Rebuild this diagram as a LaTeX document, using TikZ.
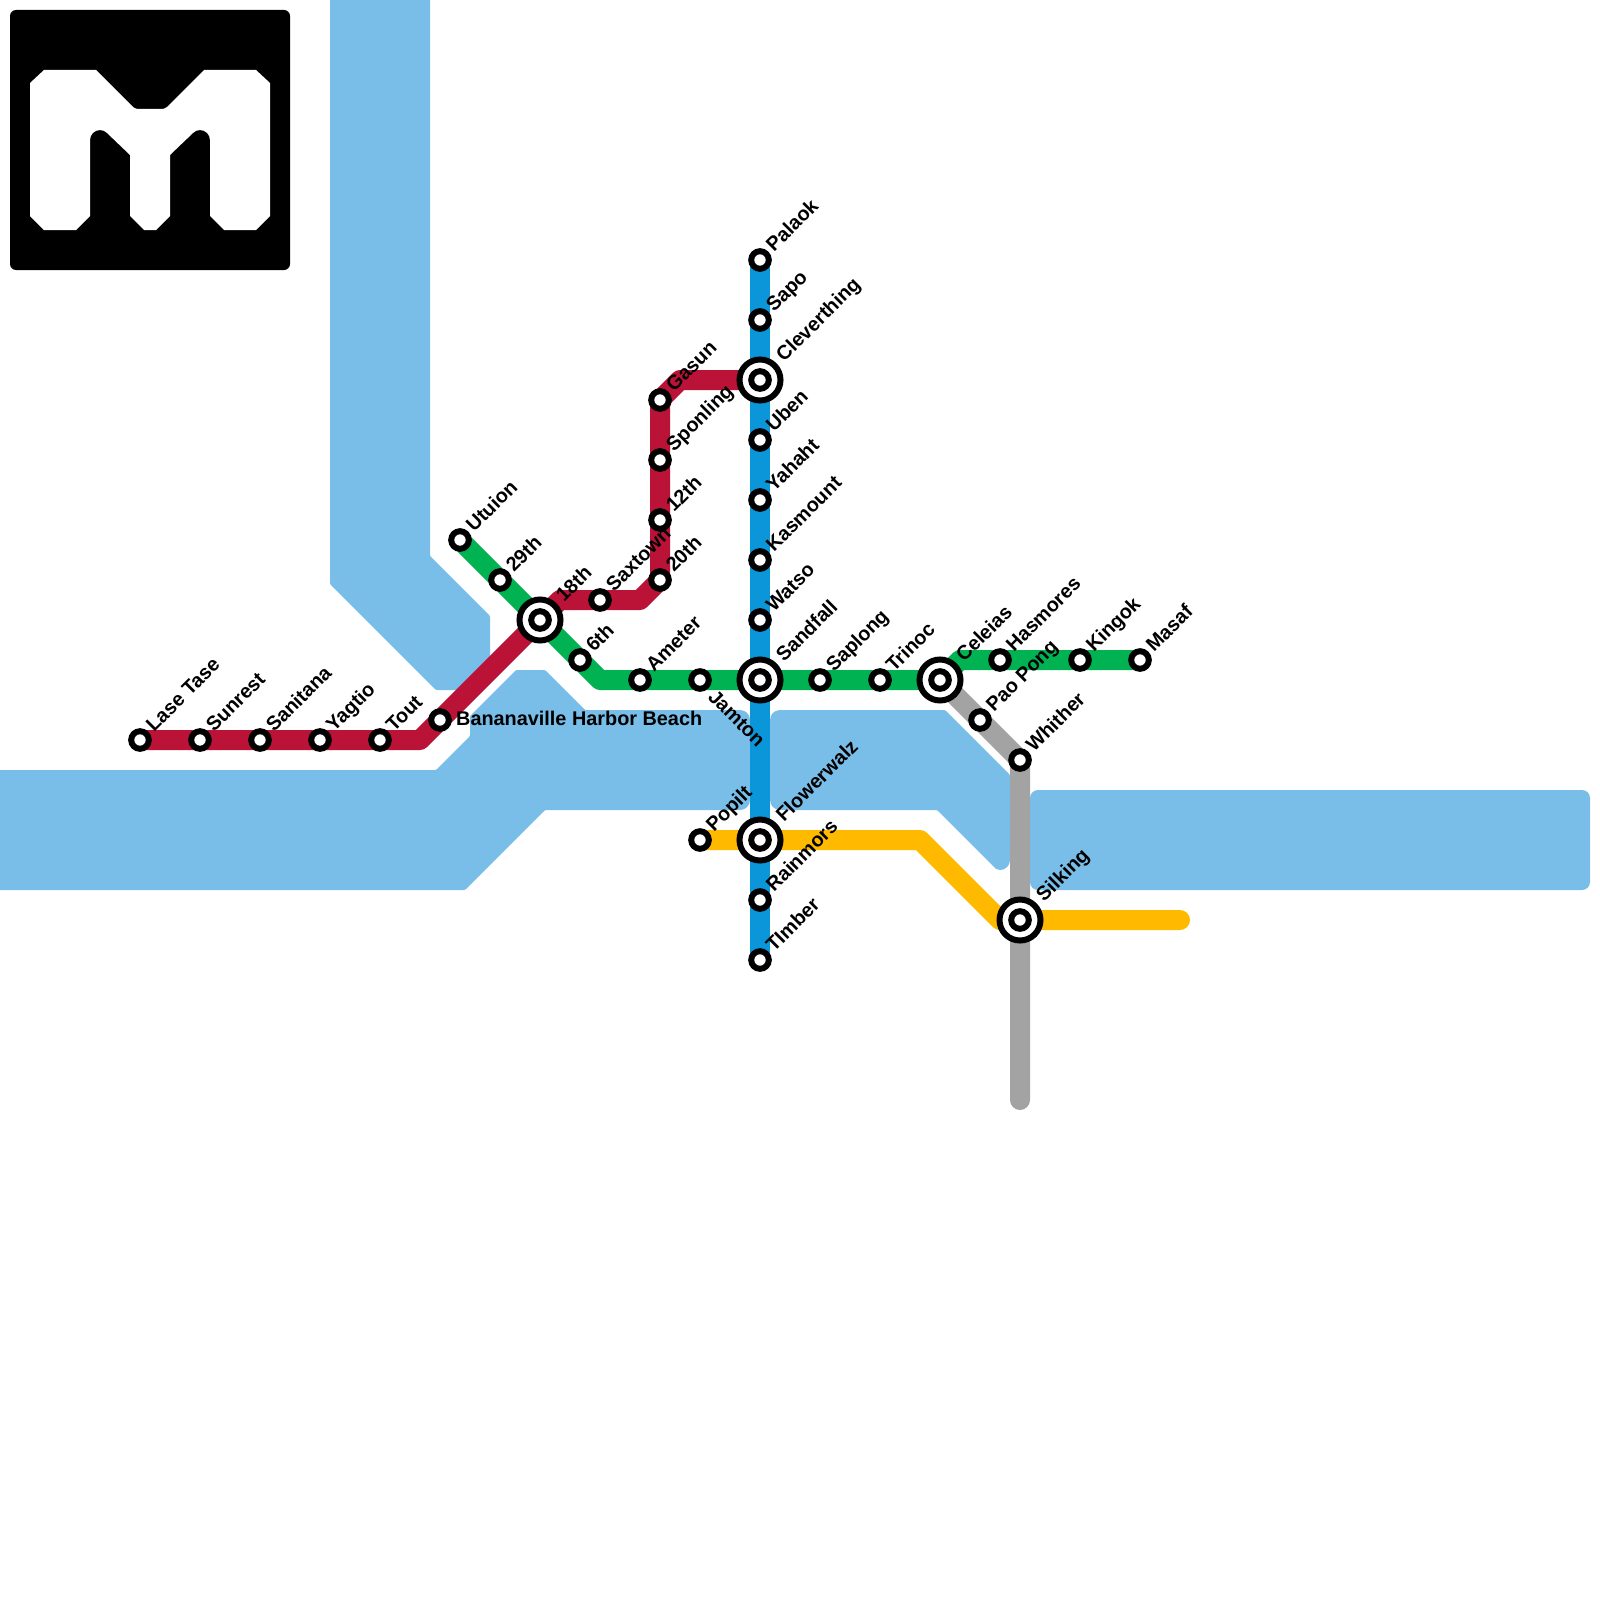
\documentclass[tikz,border=0pt]{standalone}
\usepackage{fontspec}
\setmainfont{Liberation Sans}
\usetikzlibrary{positioning}
\pgfdeclarelayer{water}
\pgfdeclarelayer{lines}
\pgfsetlayers{water,lines,main}
\definecolor{waterblue}{HTML}{79BDE9}
\definecolor{linered}{HTML}{BB1238}
\definecolor{linegreen}{HTML}{00B251}
\definecolor{lineblue}{HTML}{0A96D8}
\definecolor{lineyellow}{HTML}{FFBA00}
\definecolor{linegray}{HTML}{A3A3A3}
\begin{document}
\begin{tikzpicture}[
            x=1pt, y=-1pt,
            stn/.style={draw, circle, fill=white, line width=6pt, outer sep=0pt, minimum size=17.6pt, inner sep=0pt},
            hub/.style={draw, circle, fill=white, line width=6pt, outer sep=0pt, minimum size=41pt, inner sep=0pt, label={[stn]center:{}}},
            tag/.style={xshift=14pt, yshift=7pt, rotate=45, anchor=base west, inner sep=0pt, font=\fontsize{19.85}{24}\selectfont\bfseries},
            hubtag/.style={xshift=24pt, yshift=17pt, rotate=45, anchor=base west, inner sep=0pt, font=\fontsize{19.85}{24}\selectfont\bfseries},
            downtag/.style={xshift=7pt, yshift=-18pt, rotate=-45, anchor=base west, inner sep=0pt, font=\fontsize{19.85}{24}\selectfont\bfseries},
            flattag/.style={xshift=16pt, yshift=-5.5pt, anchor=base west, inner sep=0pt, font=\fontsize{19.85}{24}\selectfont\bfseries},
            route/.style={line width=20pt, line cap=round, line join=round}
        ]
        \useasboundingbox (0,0) rectangle (1600,1600);

        % logo
        \fill[black, rounded corners=6pt] (10,10) rectangle (290,270);
        \fill[white] (30,83) -- (44,70) -- (96,70) [rounded corners=3pt] -- (135,109) -- (165,109) [sharp corners] -- (204,70) -- (256,70) -- (270,83) -- (270,216) -- (256,230) -- (224,230) -- (210,216) -- (210,140) .. controls (210,134.5) and (205.5,130) .. (200,130) .. controls (197,130) and (194.8,131.2) .. (193,133) -- (170,155) -- (170,216) -- (156,230) -- (144,230) -- (130,216) -- (130,155) -- (107,133) .. controls (105.2,131.2) and (103,130) .. (100,130) .. controls (94.5,130) and (90,134.5) .. (90,140) -- (90,216) -- (76,230) -- (44,230) -- (30,216) -- cycle;

        \begin{pgfonlayer}{water}
            \fill[waterblue, rounded corners=1pt] (330,-10) -- (430,-10) -- (430,556) -- (490,616) -- (490,672) -- (476,690) -- (436,690) -- (330,584) -- cycle;
            \fill[waterblue, rounded corners=1pt] (-10,770) -- (436,770) -- (470,736) -- (470,716) -- (516,670) -- (545,670) -- (585,710) [rounded corners=10pt] -- (750,710) -- (750,810) [rounded corners=1pt] -- (545,810) -- (465,890) -- (-10,890) -- cycle;
            \fill[waterblue, rounded corners=10pt] (770,710) [rounded corners=1pt] -- (945,710) -- (1010,775) [sharp corners] -- (1010,860) .. controls (1010,866) and (1005,870) .. (1000,870) .. controls (997,870) and (995,868.5) .. (993,866) [rounded corners=1pt] -- (937,810) [rounded corners=10pt] -- (770,810) -- cycle;
            \fill[waterblue, rounded corners=8pt] (1030,790) rectangle (1590,890);
        \end{pgfonlayer}

        \node[stn] (LaseTase) at (140,740) {};
        \node[stn] (Sunrest) at (200,740) {};
        \node[stn] (Sanitana) at (260,740) {};
        \node[stn] (Yagtio) at (320,740) {};
        \node[stn] (Tout) at (380,740) {};
        \node[stn] (Bananaville) at (440,720) {};
        \node[stn] (Utuion) at (460,540) {};
        \node[stn] (TwentyNinth) at (500,580) {};
        \node[hub] (Eighteenth) at (540,620) {};
        \node[stn] (Sixth) at (580,660) {};
        \node[stn] (Saxtown) at (600,600) {};
        \node[stn] (Twentieth) at (660,580) {};
        \node[stn] (Twelfth) at (660,520) {};
        \node[stn] (Sponling) at (660,460) {};
        \node[stn] (Gasun) at (660,400) {};
        \node[stn] (Ameter) at (640,680) {};
        \node[stn] (Jamton) at (700,680) {};
        \node[stn] (Popilt) at (700,840) {};
        \node[stn] (Palaok) at (760,260) {};
        \node[stn] (Sapo) at (760,320) {};
        \node[hub] (Cleverthing) at (760,380) {};
        \node[stn] (Uben) at (760,440) {};
        \node[stn] (Yahaht) at (760,500) {};
        \node[stn] (Kasmount) at (760,560) {};
        \node[stn] (Watso) at (760,620) {};
        \node[hub] (Sandfall) at (760,680) {};
        \node[hub] (Flowerwalz) at (760,840) {};
        \node[stn] (Rainmors) at (760,900) {};
        \node[stn] (Timber) at (760,960) {};
        \node[stn] (Saplong) at (820,680) {};
        \node[stn] (Trinoc) at (880,680) {};
        \node[hub] (Celeias) at (940,680) {};
        \node[stn] (PaoPong) at (980,720) {};
        \node[stn] (Hasmores) at (1000,660) {};
        \node[stn] (Kingok) at (1080,660) {};
        \node[stn] (Masaf) at (1140,660) {};
        \node[stn] (Whither) at (1020,760) {};
        \node[hub] (Silking) at (1020,920) {};

        \coordinate (redA) at (420,740);
        \coordinate (redB) at (560,600);
        \coordinate (redC) at (640,600);
        \coordinate (redD) at (680,380);
        \coordinate (greenA) at (600,680);
        \coordinate (greenB) at (960,660);
        \coordinate (yellowA) at (920,840);
        \coordinate (yellowB) at (1000,920);
        \coordinate (yellowC) at (1180,920);
        \coordinate (grayA) at (1020,1100);

        \begin{pgfonlayer}{lines}
            \draw[route, linered] (LaseTase.center) -- (Sunrest.center) -- (Sanitana.center) -- (Yagtio.center) -- (Tout.center) -- (redA) -- (Bananaville.center) -- (Eighteenth.center) -- (redB) -- (Saxtown.center) -- (redC) -- (Twentieth.center) -- (Twelfth.center) -- (Sponling.center) -- (Gasun.center) -- (redD) -- (Cleverthing.center);
            \draw[route, linegreen] (Utuion.center) -- (TwentyNinth.center) -- (Eighteenth.center) -- (Sixth.center) -- (greenA) -- (Ameter.center) -- (Jamton.center) -- (Sandfall.center) -- (Saplong.center) -- (Trinoc.center) -- (Celeias.center) -- (greenB) -- (Hasmores.center) -- (Kingok.center) -- (Masaf.center);
            \draw[route, linegray] (Celeias.center) -- (PaoPong.center) -- (Whither.center) -- (Silking.center) -- (grayA);
            \draw[route, lineyellow] (Popilt.center) -- (Flowerwalz.center) -- (yellowA) -- (yellowB) -- (Silking.center) -- (yellowC);
            \draw[route, lineblue] (Palaok.center) -- (Sapo.center) -- (Cleverthing.center) -- (Uben.center) -- (Yahaht.center) -- (Kasmount.center) -- (Watso.center) -- (Sandfall.center) -- (Flowerwalz.center) -- (Rainmors.center) -- (Timber.center);
        \end{pgfonlayer}

        \node[tag] (tLaseTase) at (LaseTase) {Lase Tase};
        \node[tag] (tSunrest) at (Sunrest) {Sunrest};
        \node[tag] (tSanitana) at (Sanitana) {Sanitana};
        \node[tag] (tYagtio) at (Yagtio) {Yagtio};
        \node[tag] (tTout) at (Tout) {Tout};
        \node[flattag] (tBananaville) at (Bananaville) {Bananaville Harbor Beach};
        \node[tag] (tUtuion) at (Utuion) {Utuion};
        \node[tag] (tTwentyNinth) at (TwentyNinth) {29th};
        \node[hubtag] (tEighteenth) at (Eighteenth) {18th};
        \node[tag] (tSixth) at (Sixth) {6th};
        \node[tag] (tSaxtown) at (Saxtown) {Saxtown};
        \node[tag] (tTwentieth) at (Twentieth) {20th};
        \node[tag] (tTwelfth) at (Twelfth) {12th};
        \node[tag] (tSponling) at (Sponling) {Sponling};
        \node[tag] (tGasun) at (Gasun) {Gasun};
        \node[tag] (tAmeter) at (Ameter) {Ameter};
        \node[downtag] (tJamton) at (Jamton) {Jamton};
        \node[tag] (tPopilt) at (Popilt) {Popilt};
        \node[tag] (tPalaok) at (Palaok) {Palaok};
        \node[tag] (tSapo) at (Sapo) {Sapo};
        \node[hubtag] (tCleverthing) at (Cleverthing) {Cleverthing};
        \node[tag] (tUben) at (Uben) {Uben};
        \node[tag] (tYahaht) at (Yahaht) {Yahaht};
        \node[tag] (tKasmount) at (Kasmount) {Kasmount};
        \node[tag] (tWatso) at (Watso) {Watso};
        \node[hubtag] (tSandfall) at (Sandfall) {Sandfall};
        \node[hubtag] (tFlowerwalz) at (Flowerwalz) {Flowerwalz};
        \node[tag] (tRainmors) at (Rainmors) {Rainmors};
        \node[tag] (tTimber) at (Timber) {TImber};
        \node[tag] (tSaplong) at (Saplong) {Saplong};
        \node[tag] (tTrinoc) at (Trinoc) {Trinoc};
        \node[hubtag] (tCeleias) at (Celeias) {Celeias};
        \node[tag] (tPaoPong) at (PaoPong) {Pao Pong};
        \node[tag] (tHasmores) at (Hasmores) {Hasmores};
        \node[tag] (tKingok) at (Kingok) {Kingok};
        \node[tag] (tMasaf) at (Masaf) {Masaf};
        \node[tag] (tWhither) at (Whither) {Whither};
        \node[hubtag] (tSilking) at (Silking) {Silking};
    \end{tikzpicture}
\end{document}
